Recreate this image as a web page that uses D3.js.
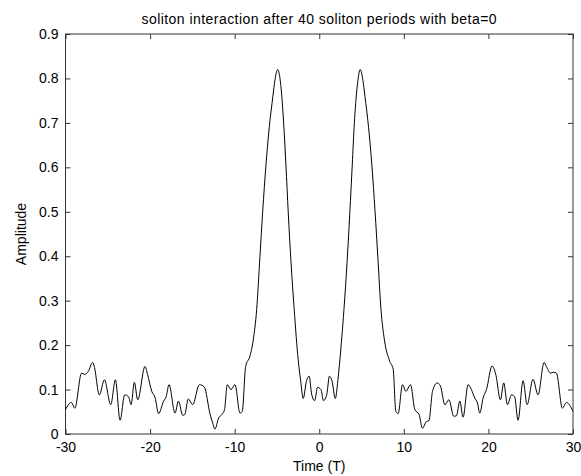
<!DOCTYPE html>
<html><head><meta charset="utf-8">
<script src="https://cdn.jsdelivr.net/npm/d3@7"></script>
<style>body{margin:0;background:#fff}svg{display:block}text{font-family:"Liberation Sans",Arial,sans-serif;font-size:14px;fill:#000}</style>
</head><body><div id="chart"></div>
<script>
const titleText = "soliton interaction after 40 soliton periods with beta=0";
const xLabel = "Time (T)";
const yLabel = "Amplitude";
const xTicks = [-30,-20,-10,0,10,20,30];
const yTicks = [0,0.1,0.2,0.3,0.4,0.5,0.6,0.7,0.8,0.9];
const time = [-30,-29.3,-28.9,-28.1,-27.7,-27.3,-26.8,-26.6,-26.0,-25.4,-24.65,-24.1,-23.55,-23.0,-22.55,-22.25,-21.86,-21.46,-20.6,-20.3,-19.8,-19.4,-19.0,-18.4,-18.1,-17.76,-17.05,-16.65,-16.14,-15.9,-15.48,-14.96,-14.18,-13.6,-12.9,-12.6,-12.33,-11.9,-11.5,-11.2,-10.87,-10.43,-9.96,-9.37,-9.1,-8.7,-8.2,-7.8,-7.4,-7.01,-6.69,-6.30,-5.91,-5.48,-5.24,-4.92,-4.64,-4.45,-4.21,-3.94,-3.67,-3.35,-2.96,-2.49,-2.2,-1.9,-1.5,-1.2,-0.9,-0.55,-0.2,0.2,0.5,0.9,1.2,1.5,1.9,2.2,2.44,2.92,3.30,3.62,3.90,4.15,4.40,4.60,4.84,5.16,5.40,5.83,6.22,6.60,6.92,7.30,7.7,8.35,8.74,9.05,9.33,9.84,10.24,10.79,11.3,11.8,12.2,12.66,12.97,13.39,13.94,14.33,14.85,15.33,15.9,16.22,16.62,17.0,17.6,17.99,18.38,18.7,18.98,19.37,19.77,20.43,20.87,21.42,21.81,22.25,22.73,23.1,23.5,24.1,24.57,25.27,25.87,26.58,26.85,27.32,27.7,28.04,28.75,29.22,30];
const amplitude = [0.055,0.071,0.058,0.137,0.134,0.141,0.161,0.152,0.088,0.122,0.066,0.122,0.031,0.088,0.084,0.066,0.116,0.077,0.152,0.134,0.096,0.081,0.046,0.074,0.084,0.111,0.047,0.074,0.042,0.044,0.079,0.066,0.111,0.106,0.044,0.025,0.011,0.036,0.044,0.055,0.111,0.100,0.111,0.047,0.051,0.152,0.175,0.212,0.28,0.40,0.50,0.605,0.69,0.76,0.796,0.820,0.80,0.765,0.70,0.605,0.50,0.39,0.28,0.167,0.12,0.08,0.12,0.13,0.09,0.075,0.105,0.10,0.075,0.09,0.13,0.12,0.08,0.12,0.167,0.28,0.39,0.50,0.605,0.70,0.765,0.80,0.820,0.796,0.76,0.69,0.605,0.50,0.40,0.28,0.212,0.163,0.146,0.051,0.046,0.111,0.096,0.111,0.055,0.044,0.013,0.028,0.030,0.096,0.115,0.108,0.066,0.077,0.040,0.041,0.074,0.038,0.111,0.100,0.081,0.070,0.047,0.081,0.100,0.153,0.134,0.077,0.115,0.066,0.088,0.084,0.031,0.120,0.066,0.123,0.088,0.161,0.152,0.137,0.139,0.137,0.058,0.071,0.051];

const W = 581, H = 476;
const m = {left:65.5, right:8, top:34, bottom:42};
const svg = d3.select("#chart").append("svg").attr("width",W).attr("height",H);
const x = d3.scaleLinear().domain([-30,30]).range([m.left, W-m.right]);
const y = d3.scaleLinear().domain([0,0.9]).range([H-m.bottom, m.top]);
const axisColor = "#333";
const tl = 5;

svg.append("rect").attr("x",x(-30)).attr("y",y(0.9)).attr("width",x(30)-x(-30)).attr("height",y(0)-y(0.9))
  .attr("fill","none").attr("stroke",axisColor).attr("stroke-width",1);

const style = g => { g.select(".domain").remove(); g.selectAll("line").attr("stroke",axisColor); g.selectAll("text").attr("fill","#000").style("font-size","14px").style("font-family","'Liberation Sans',Arial,sans-serif"); };
svg.append("g").attr("transform",`translate(0,${y(0)})`).call(d3.axisBottom(x).tickValues(xTicks).tickSize(-tl).tickPadding(8).tickFormat(d => String(d))).call(style);
svg.append("g").attr("transform",`translate(0,${y(0.9)})`).call(d3.axisTop(x).tickValues(xTicks).tickSize(-tl).tickFormat("")).call(style);
svg.append("g").attr("transform",`translate(${x(-30)},0)`).call(d3.axisLeft(y).tickValues(yTicks).tickSize(-tl).tickPadding(7).tickFormat(d => d===0?"0":d3.format(".1f")(d))).call(style);
svg.append("g").attr("transform",`translate(${x(30)},0)`).call(d3.axisRight(y).tickValues(yTicks).tickSize(-tl).tickFormat("")).call(style);

const pts = time.map((t,i)=>[t,amplitude[i]]);
svg.append("path").datum(pts).attr("fill","none").attr("stroke","#000").attr("stroke-width",1)
  .attr("d", d3.line().x(d=>x(d[0])).y(d=>y(d[1])).curve(d3.curveMonotoneX));

svg.append("text").attr("x",(x(-30)+x(30))/2).attr("y",24).attr("text-anchor","middle").style("letter-spacing","0.45px").text(titleText);
svg.append("text").attr("x",(x(-30)+x(30))/2).attr("y",471).attr("text-anchor","middle").text(xLabel);
svg.append("text").attr("transform",`translate(26,${(y(0)+y(0.9))/2}) rotate(-90)`).attr("text-anchor","middle").text(yLabel);
</script></body></html>
